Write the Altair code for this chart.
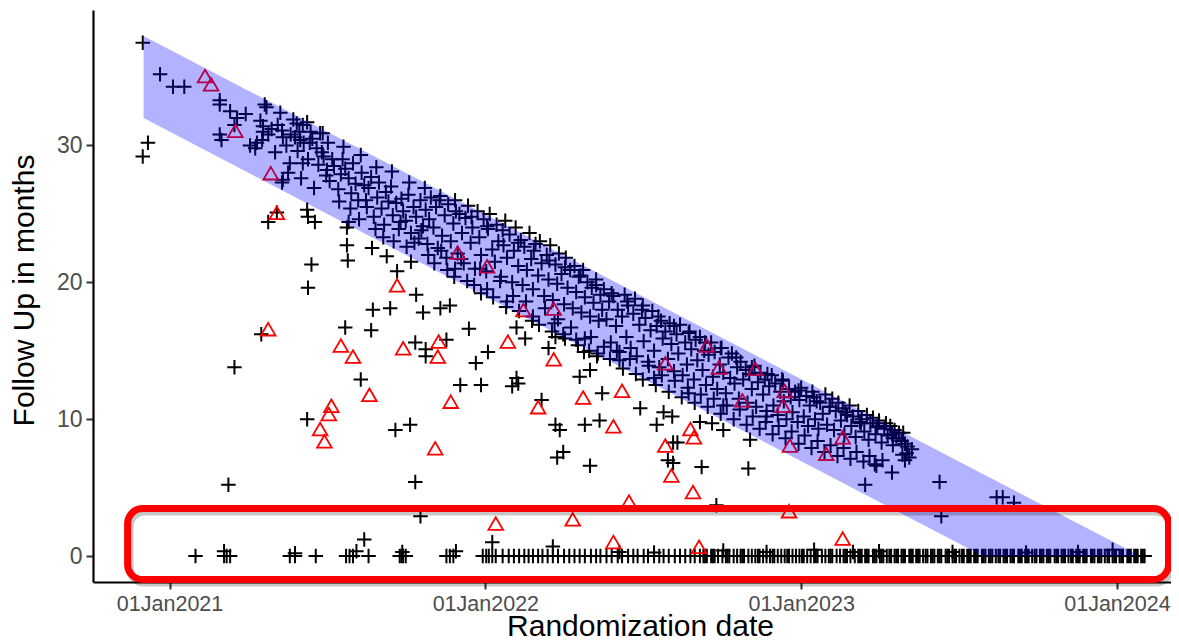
import altair as alt
import pandas as pd

# x values: days since 01Jan2021 ; y values: follow-up in months
x_tick_days = [0, 365, 730, 1095]
x_tick_labels = ["01Jan2021", "01Jan2022", "01Jan2023", "01Jan2024"]
y_ticks = [0, 10, 20, 30]

# black "+" points inside the shaded band
band_days = [-31, -11, 4, 17, 58, 58, 70, 78, 88, 75, 58, 60, 110, 112, 93, 99, 101, 108, 108, 114,
             107, 122, 130, 131, 143, 145, 151, 154, 159, 154, 139, 137, 131, 162, 174, 177, 176, 130,
             118, 125, 135, 140, 148, 150, 155, 160, 165, 170, 172, 178, 182, 185, 188, 190, 195, 198,
             200, 203, 207, 210, 212, 215, 218, 222, 225, 228, 230, 233, 236, 240, 242, 245, 248, 250,
             253, 256, 258, 262, 265, 268, 270, 273, 276, 279, 282, 285, 288, 290, 293, 296, 298, 300,
             302, 305, 308, 310, 312, 315, 318, 320, 322, 325, 328, 330, 333, 335, 338, 340, 342, 345,
             348, 350, 353, 356, 358, 360, 363, 366, 368, 370, 373, 376, 378, 380, 383, 386, 388, 390,
             393, 396, 398, 400, 403, 406, 408, 410, 413, 416, 418, 420, 423, 426, 428, 430, 433, 436,
             438, 440, 443, 446, 448, 450, 453, 456, 458, 460, 463, 466, 468, 470, 473, 476, 478, 480,
             483, 486, 488, 490, 493, 496, 498, 500, 455, 470, 485, 495, 330, 360, 390, 420, 445, 480,
             502, 505, 508, 510, 513, 516, 518, 520, 523, 526, 528, 530, 533, 536, 538, 540, 543, 546,
             548, 550, 553, 556, 558, 560, 563, 566, 568, 570, 573, 576, 578, 580, 583, 586, 588, 590,
             593, 596, 598, 600, 603, 606, 608, 610, 613, 616, 618, 620, 623, 626, 628, 630, 633, 636,
             638, 640, 643, 646, 648, 650, 653, 656, 658, 660, 663, 666, 668, 670, 673, 676, 678, 680,
             683, 686, 688, 690, 693, 696, 698, 700, 703, 706, 708, 710, 713, 716, 718, 720, 723, 726,
             728, 730, 733, 736, 738, 740, 743, 746, 748, 750, 520, 560, 600, 640, 690,
             752, 755, 758, 760, 763, 766, 768, 770, 773, 776, 778, 780, 783, 786, 788, 790, 793, 796,
             798, 800, 803, 806, 808, 810, 813, 816, 818, 820, 823, 826, 828, 830, 833, 836, 838, 840,
             843, 846, 848, 850, 852, 855, 858, 836, 847, 850, 815, 835, 804, 890, 892, 956, 963, 976,
             152, 167, 181, 196, 209, 219, 227, 238, 247, 259, 267, 274, 283, 291, 299, 306, 314, 321,
             329, 337, 344, 352, 359, 367, 374, 382, 389, 397, 404, 412, 419, 427, 434, 442, 449, 457,
             464, 472, 479, 487, 494, 502, 509, 517, 524, 532, 539, 547, 554, 562, 569, 577, 584, 592,
             599, 607, 614, 622, 629, 637, 644, 652, 659, 667, 674, 682, 689, 697, 704, 712, 719, 727,
             734, 742, 749, 757, 764, 772, 779, 787, 794, 802, 809, 817, 824,
             105, 128, 147, 163, 183, 201, 221, 239, 257, 277, 295, 313, 331, 349, 367, 385, 403, 421,
             439, 457, 475, 493, 511, 529, 547, 565, 583, 601, 619, 637, 655, 673, 691, 709, 727, 745,
             763, 781, 799, 817, 835, 853]
band_months = [37.5, 35.2, 34.3, 34.3, 33.3, 33.0, 32.5, 32.0, 32.3, 31.5, 30.8, 30.4, 33.0, 32.8, 30.0, 29.8, 30.2, 31.4, 31.0, 30.8,
               30.4, 29.5, 31.1, 30.6, 31.9, 30.6, 30.4, 31.5, 31.7, 28.7, 28.7, 28.0, 27.5, 30.2, 30.9, 30.9, 29.5, 27.3,
               31.2, 31.5, 30.0, 30.8, 29.6, 31.0, 30.2, 29.0, 30.5, 29.8, 28.6, 29.2, 28.2, 27.4, 29.0, 28.5, 26.8, 27.9,
               29.0, 28.3, 27.6, 26.5, 28.7, 27.2, 26.0, 28.0, 27.1, 25.5, 26.9, 27.7, 24.8, 26.2, 27.3, 25.4, 24.2, 26.6,
               25.9, 27.0, 24.9, 25.8, 23.9, 26.1, 25.2, 24.5, 26.4, 23.6, 25.5, 24.8, 23.2, 26.0, 24.1, 25.3, 22.8, 24.6,
               26.2, 24.0, 25.5, 22.5, 26.0, 23.4, 24.9, 21.8, 25.7, 23.0, 24.3, 26.0, 22.1, 25.0, 23.6, 21.4, 24.7, 25.6,
               22.9, 24.0, 21.0, 25.2, 23.3, 22.0, 24.6, 20.8, 23.9, 25.0, 22.4, 21.5, 24.2, 23.0, 20.4, 22.7, 24.5, 21.8,
               23.5, 20.0, 22.3, 24.0, 21.2, 23.1, 19.8, 22.6, 20.9, 23.6, 21.7, 19.5, 22.8, 20.5, 23.0, 21.4, 19.0, 22.0,
               20.2, 22.7, 18.7, 21.3, 19.9, 22.1, 20.6, 18.4, 21.8, 19.6, 20.9, 18.1, 21.2, 19.3, 20.4, 17.8, 20.9, 18.9,
               20.0, 17.5, 19.6, 18.5, 20.2, 17.2, 19.1, 18.0, 16.2, 15.8, 15.0, 14.8, 21.0, 19.2, 18.6, 17.5, 17.0, 15.9,
               19.5, 17.3, 18.6, 15.6, 19.0, 16.8, 18.0, 14.9, 17.5, 19.1, 16.0, 18.3, 15.2, 17.7, 18.8, 14.6, 16.9, 18.0,
               15.7, 17.4, 14.2, 16.5, 17.9, 15.0, 16.8, 13.8, 17.2, 15.9, 16.4, 14.4, 17.0, 15.5, 13.5, 16.2, 14.8, 16.9,
               13.2, 15.6, 14.0, 16.3, 15.1, 12.9, 15.8, 14.3, 16.0, 13.6, 15.0, 12.5, 14.7, 15.6, 13.1, 14.9, 12.2, 14.0,
               15.2, 13.4, 11.9, 14.5, 13.0, 14.8, 12.6, 13.8, 11.5, 14.2, 12.9, 13.6, 11.2, 13.3, 12.2, 13.9, 10.9, 12.7,
               13.4, 11.8, 12.9, 10.6, 12.4, 13.2, 11.0, 12.6, 10.3, 12.0, 12.9, 11.3, 10.0, 12.2, 11.6, 10.5, 12.0, 9.8,
               11.4, 12.3, 10.2, 11.7, 9.5, 11.0, 12.0, 10.0, 11.3, 9.3, 14.3, 13.0, 11.9, 11.0, 10.2,
               11.2, 10.4, 11.8, 9.6, 10.9, 11.5, 9.2, 10.6, 11.2, 9.9, 10.8, 8.9, 10.3, 11.0, 9.5, 10.2, 8.7, 10.6,
               9.8, 10.0, 9.1, 10.3, 8.5, 9.7, 10.1, 8.9, 9.5, 9.9, 8.3, 9.3, 9.7, 8.8, 9.5, 8.1, 9.2, 8.6,
               9.0, 8.4, 9.0, 8.2, 7.5, 7.2, 7.8, 8.6, 7.4, 7.0, 6.7, 6.1, 5.2, 5.4, 2.9, 4.3, 4.3, 3.9,
               27.6, 26.9, 27.8, 25.9, 25.4, 24.6, 26.0, 23.9, 23.3, 23.0, 24.4, 22.6, 22.9, 23.8, 22.0, 21.4, 22.3, 20.9,
               20.4, 21.7, 20.1, 19.8, 21.0, 19.5, 18.9, 20.1, 18.2, 19.0, 17.9, 18.6, 17.2, 16.9, 18.1, 16.4, 17.3, 15.9,
               16.7, 15.4, 14.9, 16.0, 14.6, 15.3, 14.4, 15.0, 13.7, 14.4, 13.3, 12.9, 13.9, 12.5, 13.2, 12.0, 12.8, 11.6,
               12.3, 11.2, 11.8, 10.9, 11.5, 10.4, 11.0, 10.0, 10.7, 9.6, 10.2, 9.3, 9.8, 8.9, 9.5, 8.6, 9.1, 8.2,
               8.8, 7.9, 8.4, 7.6, 8.1, 7.3, 7.9, 7.1, 7.6, 6.9, 7.3, 6.6, 7.0,
               31.8, 32.4, 31.6, 31.0, 30.2, 29.9, 29.3, 28.4, 28.1, 27.3, 26.9, 26.3, 25.2, 24.8, 24.1, 23.8, 22.9, 22.3,
               21.6, 21.1, 20.5, 19.8, 19.2, 18.6, 18.3, 17.5, 16.8, 16.4, 15.6, 15.2, 14.5, 13.8, 13.3, 12.8, 12.1, 11.6,
               10.9, 10.5, 9.7, 9.4, 8.9, 8.0]

# black "+" points scattered below the band
scatter_days = [-31, -25, 114, 124, 159, 160, 168, 205, 205, 206, 164, 160, 234, 251, 263, 235, 255, 207, 279, 285,
                293, 313, 324, 203, 233, 106, 75, 284, 296, 296, 320, 346, 368, 354, 221, 336, 360, 159, 261, 278,
                401, 411, 401, 396, 403, 430, 446, 451, 438, 446, 474, 486, 500, 480, 497, 544, 563, 571, 581, 587,
                613, 627, 640, 671, 582, 576, 582, 615, 669, 632, 68, 284, 290, 225, 373, 443, 448, 455, 486,
                63, 145, 216, 269, 331, 520, 560, 640, 690, 745, 790, 820, 905, 990, 1050, 1090]
scatter_months = [29.2, 30.2, 24.4, 25.1, 25.3, 24.8, 24.4, 24.0, 22.7, 21.6, 21.3, 19.6, 22.5, 21.9, 20.8, 18.0, 18.1, 24.4, 21.5, 19.1,
                  17.8, 18.1, 18.3, 16.7, 16.5, 16.2, 13.8, 15.6, 15.1, 14.6, 15.8, 16.6, 14.9, 14.1, 12.9, 12.5, 12.5, 10.0, 9.2, 9.6,
                  16.7, 15.9, 13.0, 12.4, 12.6, 11.4, 9.6, 9.2, 15.2, 16.0, 13.1, 13.6, 11.9, 9.6, 9.9, 10.8, 9.6, 10.5, 10.2, 8.3,
                  9.8, 9.7, 9.2, 8.5, 8.3, 7.0, 6.8, 6.5, 6.4, 3.7, 5.2, 5.4, 2.9, 1.2, 1.0, 0.7, 7.2, 7.6, 6.6,
                  0.35, 0.2, 0.35, 0.3, 0.35, 0.3, 0.25, 0.4, 0.3, 0.45, 0.3, 0.35, 0.3, 0.25, 0.3, 0.45]

# black "+" points on the zero line (follow-up of 0 months)
zero_days = [30, 63, 66, 70, 139, 145, 169, 204, 208, 212, 230, 266, 268, 270, 273, 320, 324, 328, 362, 366,
             369, 373, 377, 385, 392, 398, 404, 410, 415, 420, 426, 431, 437, 443, 449, 456, 462, 468, 474, 480,
             487, 493, 498, 505, 511, 518, 523, 530, 536, 541, 548, 553, 560, 566, 571, 577, 584, 590, 596, 602,
             607, 613, 617, 621, 626, 630, 634, 639, 643, 647, 652, 656, 660, 664, 669, 673, 677, 682, 686, 690,
             694, 699, 703, 707, 711, 716, 720, 724, 728, 733, 737, 741, 745, 749, 754, 758, 762, 766, 771, 775,
             779, 783, 787, 792, 796, 800, 804, 808, 813, 817, 821, 825, 829, 834, 838, 842, 846, 850, 855, 859,
             863, 867, 871, 876, 880, 884, 888, 892, 897, 901, 905, 909, 913, 918, 922, 926, 930, 934, 939, 943,
             947, 951, 955, 960, 964, 968, 972, 976, 981, 985, 989, 993, 997, 1002, 1006, 1010, 1014, 1018, 1023, 1027,
             1031, 1035, 1039, 1044, 1048, 1052, 1056, 1060, 1065, 1069, 1073, 1077, 1081, 1086, 1090, 1094, 1098, 1102,
             1107, 1111, 1115, 1119, 1123, 1127,
             619, 628, 645, 662, 680, 697, 714, 731, 747, 764, 781, 798, 806, 815, 823, 832, 840, 848, 857, 865,
             874, 882, 890, 899, 907, 916, 924, 932, 941, 949, 958, 966, 974, 983, 991, 1000, 1008, 1016, 1025, 1033,
             1042, 1050, 1058, 1067, 1075, 1084, 1092, 1100, 1109, 1117, 1125]

# red open triangles (events)
tri_days = [41, 48, 76, 117, 124, 263, 114, 198, 212, 270, 311, 310, 231, 325, 187, 184, 174, 179, 307, 391,
            426, 444, 478, 523, 513, 602, 606, 573, 717, 409, 444, 333, 367, 573, 635, 677, 662, 709, 711, 621,
            580, 605, 759, 778, 716, 531, 778, 513, 612, 377, 466]
tri_months = [35.0, 34.4, 31.0, 27.9, 25.0, 19.7, 16.5, 15.3, 14.5, 15.1, 15.6, 14.5, 11.7, 11.2, 10.9, 10.3, 9.2, 8.3, 7.8, 15.6,
              10.8, 14.3, 11.5, 12.0, 9.4, 9.2, 8.6, 8.0, 8.0, 17.9, 18.0, 22.1, 21.1, 14.0, 13.7, 13.6, 11.3, 10.9, 12.0, 15.3,
              5.8, 4.6, 7.4, 8.6, 3.2, 3.9, 1.2, 0.95, 0.6, 2.3, 2.6]

# shaded band: maximum possible follow-up and 6 months below it
band_edge_days = [-30, 940, 1116]
band_upper = [38.0, 6.0, 0.2]
band_lower = [32.0, 0.0, 0.0]

# highlight box around the zero line
box_days = [-48.5]
box_days2 = [1154.6]
box_months = [-1.72]
box_months2 = [3.47]

x_domain = [-88.5, 1157.5]
y_domain = [-1.9, 39.9]

plus_df = pd.DataFrame({
    "days": band_days + scatter_days + zero_days,
    "months": band_months + scatter_months + [0.0] * len(zero_days),
})
tri_df = pd.DataFrame({"days": tri_days, "months": tri_months})
band_df = pd.DataFrame({"days": band_edge_days, "months": band_upper, "months2": band_lower})
box_df = pd.DataFrame({"days": box_days, "days2": box_days2, "months": box_months, "months2": box_months2})

label_expr = " : ".join(
    [f"datum.value == {v} ? '{l}'" for v, l in zip(x_tick_days, x_tick_labels)]
) + " : ''"

FONT = "Liberation Sans"
x_enc = alt.X(
    "days:Q",
    scale=alt.Scale(domain=x_domain, nice=False, zero=False),
    axis=alt.Axis(
        title="Randomization date", values=x_tick_days, labelExpr=label_expr,
        grid=False, titleX=547, titleY=53, titleBaseline="alphabetic", titleAlign="center",
        labelPadding=4, labelFontSize=21.5,
    ),
)
y_enc = alt.Y(
    "months:Q",
    scale=alt.Scale(domain=y_domain, nice=False, zero=False),
    axis=alt.Axis(
        title="Follow Up in months", values=y_ticks, grid=False,
        titleX=-60, titleY=280, titleAngle=270, titleBaseline="alphabetic", titleAlign="center",
        labelPadding=4, labelFontSize=23,
    ),
)

plus_path = "M-1,0L1,0M0,-1L0,1"
tri_path = "M0,-1L1,0.72L-1,0.72Z"

plus = alt.Chart(plus_df).mark_point(
    shape=plus_path, filled=False, color="black", strokeWidth=2, size=210, opacity=1
).encode(x=x_enc, y=y_enc)

tri = alt.Chart(tri_df).mark_point(
    shape=tri_path, filled=False, color="#FF0000", strokeWidth=1.8, size=215, opacity=1
).encode(x="days:Q", y="months:Q")

band = alt.Chart(band_df).mark_area(
    color="#0000FF", opacity=0.3, interpolate="linear"
).encode(x="days:Q", y="months:Q", y2="months2:Q")

box_shadow = alt.Chart(box_df).mark_rect(
    filled=False, stroke="#000000", strokeOpacity=0.22, strokeWidth=8, cornerRadius=15,
    xOffset=2, x2Offset=2, yOffset=3, y2Offset=3,
).encode(x="days:Q", x2="days2:Q", y="months:Q", y2="months2:Q")

box = alt.Chart(box_df).mark_rect(
    filled=False, stroke="#FF0000", strokeWidth=7, cornerRadius=15,
).encode(x="days:Q", x2="days2:Q", y="months:Q", y2="months2:Q")

chart = alt.layer(plus, tri, band, box_shadow, box).properties(
    width=1078, height=572,
    autosize=alt.AutoSizeParams(type="none"),
    padding={"left": 85, "top": 2, "right": 0, "bottom": 54},
    background="white",
).configure_view(strokeWidth=0).configure_axis(
    domainColor="black", domainWidth=2.2, tickColor="#333333", tickWidth=2, tickSize=7,
    labelColor="#4D4D4D", labelFont=FONT,
    titleColor="black", titleFont=FONT, titleFontSize=30, titleFontWeight="normal",
)

chart.save("out.html", embed_options={"renderer": "svg", "actions": False})
